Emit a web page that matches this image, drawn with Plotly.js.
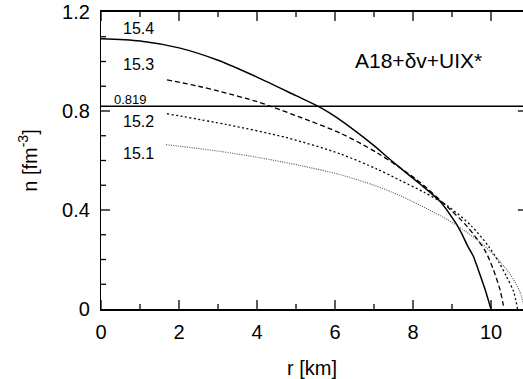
<!DOCTYPE html>
<html>
<head>
<meta charset="utf-8">
<script src="https://cdn.plot.ly/plotly-3.0.1.min.js"></script>
<style>html,body{margin:0;padding:0;background:#fff;}#chart{width:523px;height:379px;}</style>
</head>
<body>
<div id="chart"></div>
<script>
// r [km] and n [fm^-3] for each central-density curve (log10 label)
const r154 = [0, 1, 2, 3, 4, 5, 5.62, 6, 7, 7.33, 7.67, 8.18, 8.69, 9.0, 9.2, 9.4, 9.54, 9.67, 9.85, 9.97, 10.0];
const n154 = [1.092, 1.083, 1.055, 1.005, 0.937, 0.862, 0.815, 0.778, 0.66, 0.615, 0.57, 0.505, 0.435, 0.37, 0.32, 0.255, 0.215, 0.16, 0.078, 0.015, 0];

const r153 = [1.69, 2.5, 3.05, 4, 4.42, 5.1, 6.13, 7.08, 8.1, 8.9, 9.38, 9.85, 10.06, 10.23, 10.31, 10.33];
const n153 = [0.926, 0.9, 0.879, 0.838, 0.815, 0.775, 0.711, 0.631, 0.522, 0.41, 0.335, 0.235, 0.159, 0.078, 0.02, 0];

const r152 = [1.69, 3.23, 4.77, 6.13, 7.08, 7.67, 8.3, 8.9, 9.5, 9.93, 10.2, 10.4, 10.58, 10.68];
const n152 = [0.789, 0.745, 0.692, 0.627, 0.565, 0.52, 0.47, 0.415, 0.335, 0.255, 0.19, 0.13, 0.07, 0];

const r151 = [1.67, 3, 4.08, 5.1, 6.13, 7.0, 7.67, 8.36, 8.9, 9.38, 9.8, 10.15, 10.49, 10.74, 10.86];
const n151 = [0.664, 0.638, 0.611, 0.58, 0.543, 0.5, 0.458, 0.405, 0.36, 0.31, 0.26, 0.205, 0.14, 0.07, 0];

// reference density line
const refX = [0, 10.82];
const refN = [0.819, 0.819];

// text labels
const curveLabels = ["15.4", "15.3", "15.2", "15.1"];
const labelX = [0.95, 0.95, 0.95, 0.95];
const labelN = [1.132, 0.987, 0.758, 0.627];
const refLabel = "0.819";
const modelLabel = "A18+δv+UIX*";

// axis ranges and tick positions
const xRange = [0, 10.82];
const yRange = [0, 1.2];
const xRightAxis = 10.92;   // frame's right edge lies just beyond the picture
const xMajorTicks = [0, 2, 4, 6, 8, 10];
const xMinorTicks = [1, 3, 5, 7, 9];
const yMajorTicks = [0.4, 0.8];
const yMinorTicks = [0.1, 0.2, 0.3, 0.5, 0.6, 0.7, 0.9, 1.0, 1.1];

const FONT = "Liberation Sans, Arial, Helvetica, sans-serif";

// plot-area size in px, used to turn tick lengths in px into axis units
const ML = 101, MR = 0, MT = 12, MB = 70, W = 523, H = 379;
const pxX = (W - ML - MR) / (xRange[1] - xRange[0]);
const pxY = (H - MT - MB) / (yRange[1] - yRange[0]);

const sp = {shape: "spline", smoothing: 0.8};
const traces = [
  {x: r154, y: n154, mode: "lines", line: Object.assign({color: "#000", width: 1.5}, sp)},
  {x: r153, y: n153, mode: "lines", line: Object.assign({color: "#000", width: 1.3, dash: "5px,3px"}, sp)},
  {x: r152, y: n152, mode: "lines", line: Object.assign({color: "#000", width: 1.3, dash: "2px,2.5px"}, sp)},
  {x: r151, y: n151, mode: "lines", line: Object.assign({color: "#555", width: 1.1, dash: "1px,1.3px"}, sp)},
  {x: refX, y: refN, mode: "lines", line: {color: "#000", width: 1.5}}
];

// inward tick marks as short segments built from the tick positions
const shapes = [];
function addTick(x0, y0, x1, y1) {
  shapes.push({type: "line", xref: "x", yref: "y", x0: x0, y0: y0, x1: x1, y1: y1,
    layer: "above", line: {color: "#000", width: 1.3}});
}
function vTicks(xs, yEdge, lenPx, dir) {
  xs.forEach(v => addTick(v, yEdge, v, yEdge + dir * lenPx / pxY));
}
function hTicks(ys, xEdge, lenPx, dir) {
  ys.forEach(v => addTick(xEdge, v, xEdge + dir * lenPx / pxX, v));
}
vTicks(xMajorTicks, yRange[0], 9, 1);
vTicks(xMinorTicks, yRange[0], 5, 1);
vTicks(xMajorTicks, yRange[1], 9, -1);
vTicks(xMinorTicks, yRange[1], 5, -1);
hTicks(yMajorTicks, xRange[0], 9, 1);
hTicks(yMinorTicks, xRange[0], 5, 1);
hTicks(yMajorTicks, xRightAxis, 9, -1);

const annotations = curveLabels.map((t, i) => ({
  x: labelX[i], y: labelN[i], xref: "x", yref: "y", text: t, showarrow: false,
  font: {family: FONT, size: 16, color: "#000"}
}));
annotations.push({x: 0.76, y: 0.848, xref: "x", yref: "y", text: refLabel, showarrow: false,
  font: {family: FONT, size: 13, color: "#000"}});
annotations.push({x: 8.15, y: 1.006, xref: "x", yref: "y", text: modelLabel, showarrow: false,
  font: {family: FONT, size: 21, color: "#000"}});

const layout = {
  width: W, height: H,
  margin: {l: ML, r: MR, t: MT, b: MB, pad: 0},
  paper_bgcolor: "#fff", plot_bgcolor: "#fff",
  showlegend: false,
  font: {family: FONT, color: "#000"},
  xaxis: {
    range: xRange, tickmode: "linear", tick0: 0, dtick: 2, ticks: "",
    showline: true, linecolor: "#000", linewidth: 1.6, mirror: true,
    showgrid: false, zeroline: false, automargin: false, fixedrange: true,
    tickfont: {family: FONT, size: 20, color: "#000"}, ticklabelstandoff: 4,
    title: {text: "r [km]", font: {family: FONT, size: 20, color: "#000"}, standoff: 19}
  },
  yaxis: {
    range: yRange, tickmode: "linear", tick0: 0, dtick: 0.4, ticks: "",
    showline: true, linecolor: "#000", linewidth: 1.2, mirror: false,
    showgrid: false, zeroline: false, automargin: false, fixedrange: true,
    tickfont: {family: FONT, size: 20, color: "#000"}, ticklabelstandoff: 6,
    title: {text: "n [fm<sup>-3</sup>]", font: {family: FONT, size: 20, color: "#000"}, standoff: 19}
  },
  shapes: shapes,
  annotations: annotations
};

Plotly.newPlot("chart", traces, layout, {displayModeBar: false, responsive: false});
</script>
</body>
</html>
